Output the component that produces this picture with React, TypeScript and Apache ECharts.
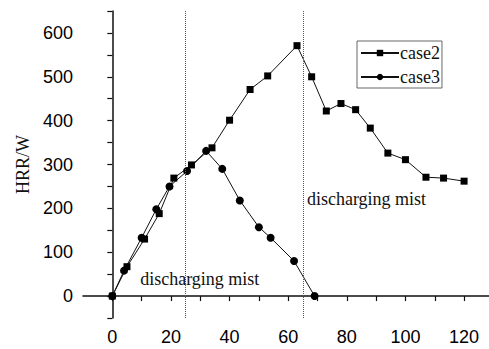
import React, { useEffect, useRef } from "react";
import * as echarts from "echarts";

const case2X = [0, 5, 11, 16, 21, 27, 34, 40, 47, 53, 63, 68, 73, 78, 83, 88, 94, 100, 107, 113, 120];
const case2Y = [0, 67, 130, 188, 269, 299, 338, 401, 471, 502, 571, 500, 422, 439, 425, 383, 326, 311, 271, 269, 262];
const case3X = [0, 4, 10, 15, 19.5, 25.5, 32, 37.5, 43.5, 50, 54, 62, 69];
const case3Y = [0, 58, 133, 198, 250, 285, 331, 290, 218, 157, 133, 80, 0];
const mistLines = [25, 65];
const mistLabels = [
  { text: "discharging mist", x: 9.5, y: 39 },
  { text: "discharging mist", x: 66.4, y: 222 },
];

const SANS = "Liberation Sans, Arial, sans-serif";
const SERIF = "Liberation Serif, Times New Roman, serif";

export default function App() {
  const ref = useRef<HTMLDivElement>(null);
  useEffect(() => {
    if (!ref.current) return;
    const chart = echarts.init(ref.current, undefined, { renderer: "svg" });
    const axisLine = { show: true, lineStyle: { color: "#111", width: 1.5 } };
    chart.setOption({
      animation: false,
      backgroundColor: "#fff",
      grid: { left: 83, top: 11, right: 0, bottom: 31, containLabel: false },
      legend: {
        left: 357,
        top: 41,
        orient: "vertical",
        itemWidth: 38,
        itemHeight: 8,
        itemGap: 6,
        padding: [3, 2, 2, 3],
        borderColor: "#666",
        borderWidth: 1,
        textStyle: { fontFamily: SERIF, fontSize: 18, color: "#111", padding: [0, 0, 0, -4] },
        data: ["case2", "case3"],
      },
      xAxis: {
        type: "value",
        min: -10,
        max: 128.5,
        interval: 10,
        axisLine,
        axisTick: { show: true, length: 5, lineStyle: { color: "#111", width: 1.2 } },
        splitLine: { show: false },
        axisLabel: {
          margin: 10,
          fontFamily: SANS,
          fontSize: 18,
          color: "#000",
          showMaxLabel: false,
          showMinLabel: false,
          formatter: (v: number) => (v >= 0 && v % 20 === 0 ? String(v) : ""),
        },
      },
      yAxis: {
        type: "value",
        min: -50,
        max: 650,
        interval: 50,
        name: "HRR/W",
        nameLocation: "middle",
        nameGap: 50,
        nameTextStyle: { fontFamily: SERIF, fontSize: 18, color: "#111" },
        axisLine,
        axisTick: { show: true, length: 5, lineStyle: { color: "#111", width: 1.2 } },
        splitLine: { show: false },
        axisLabel: {
          margin: 10,
          fontFamily: SANS,
          fontSize: 18,
          color: "#000",
          formatter: (v: number) => (v >= 0 && v <= 600 && v % 100 === 0 ? String(v) : ""),
        },
      },
      series: [
        {
          name: "case2",
          type: "line",
          data: case2X.map((x, i) => [x, case2Y[i]]),
          symbol: "rect",
          symbolSize: 7,
          itemStyle: { color: "#000" },
          lineStyle: { color: "#111", width: 1 },
          markLine: {
            silent: true,
            symbol: "none",
            label: { show: false },
            lineStyle: { color: "#555", type: "dotted", width: 1 },
            data: mistLines.map((x) => ({ xAxis: x })),
          },
          markPoint: {
            silent: true,
            symbol: "circle",
            symbolSize: 0,
            data: mistLabels.map((m) => ({
              coord: [m.x, m.y],
              value: m.text,
              label: {
                show: true,
                position: "right",
                distance: 0,
                formatter: m.text,
                fontFamily: SERIF,
                fontSize: 18,
                color: "#111",
              },
            })),
          },
        },
        {
          name: "case3",
          type: "line",
          data: case3X.map((x, i) => [x, case3Y[i]]),
          symbol: "circle",
          symbolSize: 8,
          itemStyle: { color: "#000" },
          lineStyle: { color: "#111", width: 1 },
        },
      ],
    });
    return () => chart.dispose();
  }, []);
  return (
    <div
      ref={ref}
      style={{ position: "fixed", left: 0, top: 0, width: 489, height: 349 }}
    />
  );
}
